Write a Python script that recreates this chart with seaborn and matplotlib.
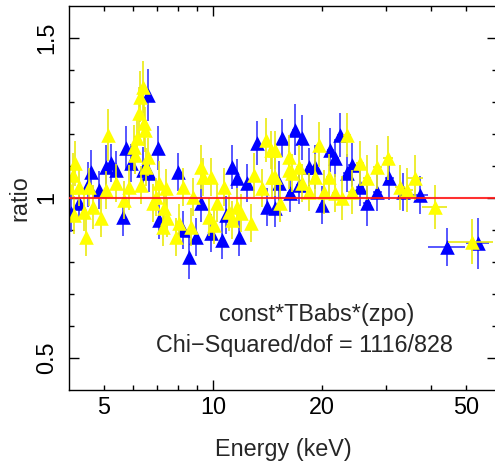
import matplotlib
matplotlib.use("Agg")
import matplotlib.pyplot as plt
import seaborn as sns
from matplotlib.ticker import FixedLocator, FixedFormatter

# ---------------- data ----------------
blue_energy = [4.05, 4.26, 4.52, 4.60, 4.84, 5.06, 5.23, 5.40, 5.64, 5.75,
               5.94, 6.41, 6.61, 6.66, 7.05, 7.10, 8.00, 8.26, 8.58, 8.98,
               9.27, 9.87, 10.59, 10.86, 11.28, 11.65, 11.80, 12.41, 13.23, 14.10,
               14.83, 15.22, 15.51, 16.32, 16.85, 17.29, 17.62, 18.42, 19.13, 20.00,
               21.05, 21.73, 22.43, 23.45, 24.21, 25.47, 26.64, 28.38, 30.64, 33.49,
               37.31, 44.31, 53.95]
blue_ratio = [0.953, 0.984, 1.041, 1.081, 1.025, 1.097, 1.109, 1.088, 0.941, 1.156,
              1.109, 1.088, 1.322, 1.078, 1.156, 0.931, 1.081, 0.900, 0.816, 0.878,
              0.984, 0.891, 0.869, 0.947, 1.097, 1.063, 0.878, 1.047, 1.172, 0.972,
              0.969, 1.047, 1.188, 1.016, 1.213, 1.041, 1.188, 1.097, 1.097, 0.978,
              1.150, 1.125, 1.197, 1.078, 1.103, 1.034, 0.984, 1.019, 1.063, 1.019,
              1.009, 0.847, 0.859]
blue_yerr = [0.06, 0.06, 0.07, 0.07, 0.06, 0.07, 0.06, 0.06, 0.06, 0.07,
             0.06, 0.07, 0.08, 0.06, 0.07, 0.06, 0.06, 0.06, 0.07, 0.06,
             0.06, 0.06, 0.06, 0.06, 0.07, 0.06, 0.06, 0.06, 0.07, 0.06,
             0.06, 0.07, 0.06, 0.06, 0.08, 0.06, 0.07, 0.06, 0.07, 0.06,
             0.07, 0.06, 0.07, 0.06, 0.07, 0.06, 0.07, 0.06, 0.07, 0.06,
             0.06, 0.06, 0.08]
blue_xerr = [0.05, 0.05, 0.05, 0.05, 0.06, 0.06, 0.06, 0.06, 0.07, 0.07,
             0.07, 0.08, 0.08, 0.08, 0.08, 0.08, 0.10, 0.10, 0.10, 0.11,
             0.11, 0.12, 0.15, 0.15, 0.16, 0.17, 0.17, 0.18, 0.20, 0.22,
             0.24, 0.25, 0.25, 0.28, 0.30, 0.30, 0.32, 0.35, 0.38, 0.40,
             0.45, 0.50, 0.50, 0.55, 0.60, 0.65, 0.70, 0.80, 0.90, 1.10,
             1.90, 5.20, 4.00]

yellow_energy = [4.00, 4.10, 4.12, 4.15, 4.26, 4.40, 4.46, 4.55, 4.66, 4.91,
                 5.06, 5.13, 5.40, 5.68, 5.86, 6.05, 6.09, 6.17, 6.25, 6.29,
                 6.33, 6.41, 6.43, 6.47, 6.53, 6.61, 6.83, 6.96, 7.09, 7.28,
                 7.32, 7.42, 7.45, 7.90, 8.06, 8.26, 8.69, 8.81, 9.27, 9.38,
                 9.75, 9.87, 10.06, 10.26, 10.72, 11.07, 11.28, 11.65, 11.95, 12.74,
                 12.98, 13.66, 14.01, 14.46, 14.55, 14.83, 14.85, 15.31, 16.22, 16.25,
                 16.53, 17.29, 17.62, 18.42, 19.13, 19.62, 20.26, 20.91, 21.73, 22.72,
                 23.45, 24.21, 25.47, 26.64, 28.38, 30.44, 32.86, 34.36, 36.14, 41.06,
                 51.95]
yellow_ratio = [1.034, 1.072, 0.947, 1.109, 1.034, 0.956, 0.878, 1.034, 0.972, 0.938,
                1.025, 1.197, 1.047, 0.994, 1.034, 1.159, 1.134, 1.188, 1.266, 1.316,
                1.041, 1.347, 1.234, 1.213, 1.097, 1.128, 0.984, 1.003, 1.047, 0.909,
                0.969, 1.031, 0.938, 0.878, 0.922, 1.034, 0.909, 1.003, 1.097, 1.066,
                0.941, 1.066, 0.916, 0.984, 1.034, 0.956, 0.931, 0.972, 0.953, 0.922,
                1.072, 1.031, 1.181, 1.150, 1.066, 1.150, 1.066, 0.984, 1.128, 1.088,
                1.078, 1.097, 1.047, 1.019, 1.066, 1.166, 1.019, 1.066, 1.016, 1.000,
                1.197, 1.019, 1.109, 1.063, 1.097, 1.125, 1.034, 1.025, 1.063, 0.972,
                0.863]
yellow_yerr = [0.06, 0.07, 0.06, 0.07, 0.06, 0.06, 0.06, 0.06, 0.07, 0.06,
               0.06, 0.08, 0.06, 0.06, 0.07, 0.07, 0.06, 0.07, 0.08, 0.08,
               0.06, 0.08, 0.07, 0.07, 0.06, 0.06, 0.06, 0.06, 0.07, 0.06,
               0.06, 0.06, 0.06, 0.06, 0.06, 0.06, 0.06, 0.06, 0.07, 0.06,
               0.06, 0.06, 0.06, 0.06, 0.06, 0.06, 0.06, 0.06, 0.06, 0.06,
               0.07, 0.06, 0.07, 0.06, 0.07, 0.06, 0.06, 0.06, 0.07, 0.06,
               0.06, 0.07, 0.06, 0.06, 0.07, 0.07, 0.07, 0.07, 0.06, 0.07,
               0.07, 0.07, 0.07, 0.07, 0.07, 0.07, 0.07, 0.07, 0.07, 0.07,
               0.07]
yellow_xerr = [0.05, 0.05, 0.05, 0.05, 0.05, 0.05, 0.05, 0.05, 0.05, 0.05,
               0.06, 0.06, 0.06, 0.06, 0.06, 0.06, 0.06, 0.06, 0.06, 0.06,
               0.07, 0.07, 0.07, 0.07, 0.07, 0.07, 0.07, 0.07, 0.07, 0.07,
               0.08, 0.08, 0.08, 0.09, 0.09, 0.10, 0.10, 0.10, 0.11, 0.11,
               0.12, 0.12, 0.12, 0.13, 0.14, 0.15, 0.15, 0.16, 0.17, 0.18,
               0.18, 0.20, 0.20, 0.22, 0.22, 0.22, 0.22, 0.24, 0.26, 0.26,
               0.28, 0.30, 0.30, 0.32, 0.35, 0.38, 0.40, 0.42, 0.45, 0.50,
               0.55, 0.60, 0.65, 0.70, 0.80, 0.90, 1.00, 1.20, 1.90, 3.20,
               7.50]

x_major_ticks = [10]
x_major_labels = ["10"]
x_minor_ticks = [5, 6, 7, 8, 9, 20, 30, 40, 50]
x_minor_labels = ["5", "", "", "", "", "20", "", "", "50"]
y_major_ticks = [0.5, 1.0, 1.5]
y_major_labels = ["0.5", "1", "1.5"]
y_minor_ticks = [0.6, 0.7, 0.8, 0.9, 1.1, 1.2, 1.3, 1.4]

model_text = "const*TBabs*(zpo)"
chi_text = "Chi\u2212Squared/dof = 1116/828"
x_label = "Energy (keV)"
y_label = "ratio"

# ---------------- style ----------------
sns.set_style("ticks")
plt.rcParams["font.family"] = ["Liberation Sans", "DejaVu Sans"]
FS = 16.8

W, H = 495, 472
fig = plt.figure(figsize=(W / 100, H / 100), dpi=100)
left_px, right_px, top_px, bottom_px = 69, 497, 6, 390
ax = fig.add_axes([left_px / W, 1 - bottom_px / H,
                   (right_px - left_px) / W, (bottom_px - top_px) / H])
ax.set_xscale("log")

series = [
    (blue_energy, blue_ratio, blue_xerr, blue_yerr, "#0000ff", "#3a3aff", 2.0),
    (yellow_energy, yellow_ratio, yellow_xerr, yellow_yerr, "#ffff00", "#eaea10", 2.2),
]
for E, R, xe, ye, col, ecol, z in series:
    ax.errorbar(E, R, xerr=xe, yerr=ye, fmt="none", ecolor=ecol,
                elinewidth=1.2, capsize=0, zorder=z)
    sns.scatterplot(x=E, y=R, color=col, marker="^", s=110, linewidth=0,
                    ax=ax, zorder=z + 0.1, legend=False)

ax.axhline(1.0, color="#ff1a1a", lw=1.5, alpha=0.9, zorder=5)

ax.set_xlim(4.0, 60.8)
ax.set_ylim(0.4, 1.6)

ax.xaxis.remove_overlapping_locs = False
ax.xaxis.set_major_locator(FixedLocator(x_major_ticks))
ax.xaxis.set_major_formatter(FixedFormatter(x_major_labels))
ax.xaxis.set_minor_locator(FixedLocator(x_minor_ticks))
ax.xaxis.set_minor_formatter(FixedFormatter(x_minor_labels))
ax.yaxis.set_major_locator(FixedLocator(y_major_ticks))
ax.yaxis.set_major_formatter(FixedFormatter(y_major_labels))
ax.yaxis.set_minor_locator(FixedLocator(y_minor_ticks))

ax.tick_params(which="both", direction="in", top=True, right=True,
               labelsize=FS, width=1.0, colors="black")
ax.tick_params(which="major", length=7.5)
ax.tick_params(which="minor", length=3.5)
ax.tick_params(axis="x", which="both", pad=4.3)
ax.tick_params(axis="y", which="both", pad=7.8)
for lab in ax.get_yticklabels():
    lab.set_rotation(90)
    lab.set_va("center")

for sp in ax.spines.values():
    sp.set_linewidth(1.0)
    sp.set_color("black")

ax.set_xlabel(x_label, fontsize=FS)
ax.set_ylabel(y_label, fontsize=FS)
ax.xaxis.set_label_coords(0.5, -0.124)
ax.yaxis.set_label_coords(-0.0876, 0.5)

ax.text(0.3505, 0.1797, model_text, transform=ax.transAxes, fontsize=FS,
        ha="left", va="baseline", zorder=6)
ax.text(0.2033, 0.0990, chi_text, transform=ax.transAxes, fontsize=FS,
        ha="left", va="baseline", zorder=6)

fig.savefig("out.png", dpi=100)
